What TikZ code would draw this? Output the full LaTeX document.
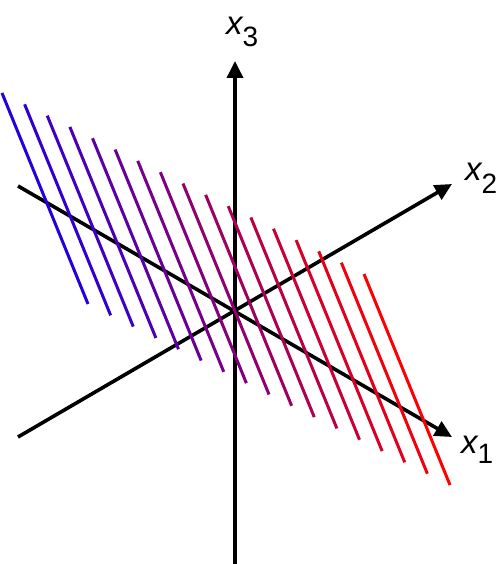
\documentclass[tikz,border=0pt]{standalone}
\usepackage{fontspec}
\setmainfont{Liberation Sans}
\usetikzlibrary{arrows.meta}
\definecolor{startblue}{RGB}{35,0,220}
\begin{document}
\begin{tikzpicture}[x=1pt,y=-1pt,
  axis/.style={line width=3.6pt,-{Triangle[length=17pt,width=16pt]}},
  hatch/.style={line width=3pt},
  lbl/.style={anchor=base west,inner sep=0pt,font=\fontsize{33}{33}\selectfont}]
\useasboundingbox (0,0) rectangle (500,564);
% axes
\coordinate (x3s) at (235,564);
\coordinate (x3e) at (235,61);
\coordinate (x1s) at (18,186);
\coordinate (x1e) at (452,437);
\coordinate (x2s) at (18,437);
\coordinate (x2e) at (452,184);
\draw[axis] (x3s) -- (x3e);
\draw[axis] (x1s) -- (x1e);
\draw[axis] (x2s) -- (x2e);
% hatch lines
\foreach \i in {0,...,16} {
  \pgfmathsetmacro\p{100*\i/16}
  \draw[hatch,red!\p!startblue] (2+22.625*\i,93+11.3125*\i) -- ++(86,211);
}
% labels
\node[lbl] (l3) at (226,35) {\itshape x\upshape\raisebox{-12pt}{\fontsize{28}{28}\selectfont 3}};
\node[lbl] (l2) at (465,180) {\itshape x\upshape\raisebox{-13pt}{\fontsize{28}{28}\selectfont 2}};
\node[lbl] (l1) at (461,453) {\itshape x\upshape\raisebox{-10pt}{\fontsize{28}{28}\selectfont 1}};
\end{tikzpicture}
\end{document}
